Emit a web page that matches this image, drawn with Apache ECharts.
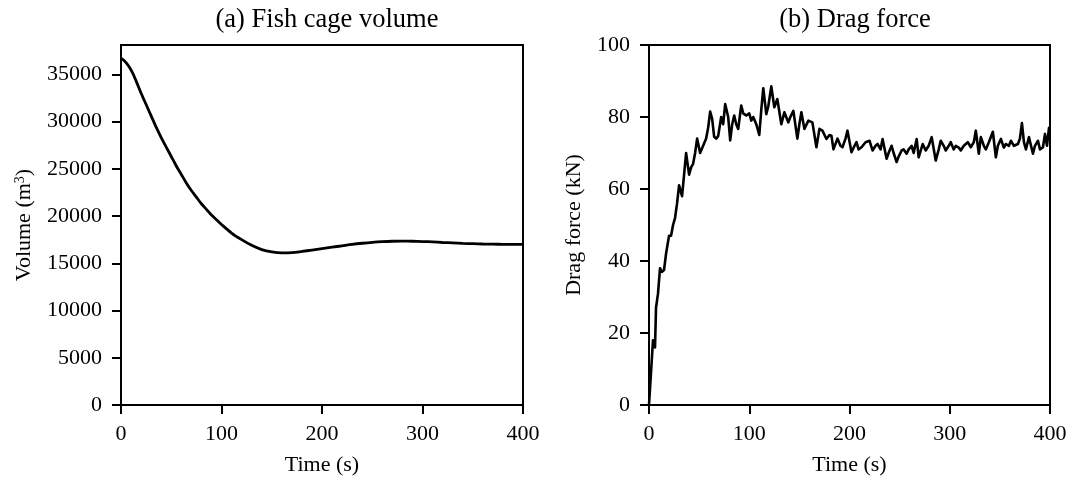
<!DOCTYPE html>
<html>
<head>
<meta charset="utf-8">
<script src="https://cdn.jsdelivr.net/npm/echarts@6/dist/echarts.min.js"></script>
<style>
  html, body { margin: 0; padding: 0; background: #fff; }
  #chart { width: 1072px; height: 481px; }
</style>
</head>
<body>
<div id="chart"></div>
<script>
// Time axis ticks shared by both panels
const timeTicks = [0, 100, 200, 300, 400];
const volumeTicks = [0, 5000, 10000, 15000, 20000, 25000, 30000, 35000];
const dragTicks = [0, 20, 40, 60, 80, 100];

// (a) Fish cage volume over time
const volTime = [0,3,6,9,12,15,20,25,30,35,40,45,50,55,60,65,70,75,80,85,90,95,100,110,120,130,140,150,160,170,180,190,200,210,220,230,240,250,260,270,280,290,300,310,320,330,340,350,360,370,380,390,400];
const volValues = [36700,36450,36100,35650,35050,34300,33000,31800,30600,29400,28300,27300,26300,25300,24400,23500,22700,22000,21300,20700,20100,19600,19100,18200,17500,16900,16450,16200,16100,16120,16250,16400,16550,16700,16850,17000,17120,17220,17290,17330,17340,17330,17300,17260,17200,17150,17100,17070,17040,17020,17010,17000,16990];

// (b) Drag force over time
const dragTime = [0,2,4,6,7,9,11,13,15,17,20,22,24,26,28,30,32,33,35,37,40,42,44,46,48,51,54,57,59,61,63,65,67,69,72,74,76,79,81,83,85,87,89,92,94,97,100,102,104,107,110,112,114,117,119,122,125,128,132,135,139,141,144,148,150,152,155,159,163,167,170,173,177,180,182,184,188,191,193,196,198,202,205,207,209,212,216,220,223,226,228,231,233,237,239,242,244,247,249,252,254,257,259,262,264,267,269,273,276,279,282,286,289,291,294,296,299,301,304,306,309,311,314,318,321,324,326,329,331,334,336,339,343,346,348,351,354,356,359,361,364,368,370,372,374,376,379,383,385,388,390,393,395,397,399,400];
const dragValues = [0,9,18,16,27,31,38,37,37.5,42,47,47,50,52,56,61,59,58,64,70,64,66,67,70,74,70,72,74,77,81.5,79.5,74.5,74,74.7,80,78,83.6,80,73.5,78,80.4,78,76.7,83.2,81,80.4,81,79,80,78,75,82,88,80.8,83,88.5,82.7,85,78,81.3,78.5,80,81.7,74,78,81.3,76.7,79,78.5,71.6,76.7,76.2,73.9,75,74.8,71,74,72,71.6,74,76.2,70.2,72,73,71,71.6,73,73.4,70.7,72,72.5,71,73.9,68.4,70,72,70,67.5,69,70.7,71,69.8,71,72,70,73.9,68.8,72.5,70.7,72,74.4,67.9,71,73.4,72,70.7,72,73,71,72,71.5,70.7,72,73,71.6,73,76.2,69.8,74.4,72,71,73,75.9,68.8,72,73.9,71.5,72.5,72,73.4,72,72.5,74,78.3,73,71,74.4,69.8,72,73.4,71,71.6,75.3,72,77,77];

const FONT = 'Liberation Serif';
const INK = '#000';

function pairs(xs, ys) { return xs.map((x, i) => [x, ys[i]]); }
const plain = v => String(v);

function xAxisFor(gridIndex) {
  return {
    type: 'value', gridIndex, min: 0, max: 400, interval: 100,
    name: 'Time (s)', nameLocation: 'middle', nameGap: 49,
    nameTextStyle: { fontFamily: FONT, fontSize: 22, color: INK },
    axisLine: { show: true, lineStyle: { color: INK, width: 2 } },
    axisTick: { show: true, length: 9, lineStyle: { color: INK, width: 2 }, customValues: timeTicks },
    axisLabel: { fontFamily: FONT, fontSize: 22, color: INK, margin: 18, formatter: plain, customValues: timeTicks },
    splitLine: { show: false }
  };
}

function yAxisFor(gridIndex, max, interval, ticks, name, gap) {
  return {
    type: 'value', gridIndex, min: 0, max, interval,
    name, nameLocation: 'middle', nameGap: gap,
    nameTextStyle: {
      fontFamily: FONT, fontSize: 22, color: INK,
      rich: {
        t: { fontFamily: FONT, fontSize: 22, color: INK },
        sup: { fontFamily: FONT, fontSize: 14, color: INK, verticalAlign: 'top', padding: [0, 0, 8, 0] }
      }
    },
    axisLine: { show: true, lineStyle: { color: INK, width: 2 } },
    axisTick: { show: true, length: 9, lineStyle: { color: INK, width: 2 }, customValues: ticks },
    axisLabel: { fontFamily: FONT, fontSize: 22, color: INK, margin: 19, formatter: plain, customValues: ticks },
    splitLine: { show: false }
  };
}

const chart = echarts.init(document.getElementById('chart'), null, { renderer: 'canvas' });
chart.setOption({
  animation: false,
  backgroundColor: '#fff',
  title: [
    { text: '(a) Fish cage volume', left: 322, top: 2, textAlign: 'center',
      textStyle: { fontFamily: FONT, fontSize: 26.5, fontWeight: 'normal', color: INK } },
    { text: '(b) Drag force', left: 850, top: 2, textAlign: 'center',
      textStyle: { fontFamily: FONT, fontSize: 26.5, fontWeight: 'normal', color: INK } }
  ],
  grid: [
    { left: 121, right: 549, top: 45, bottom: 74, show: true, borderColor: INK, borderWidth: 2, backgroundColor: 'transparent' },
    { left: 649, right: 22, top: 45, bottom: 74, show: true, borderColor: INK, borderWidth: 2, backgroundColor: 'transparent' }
  ],
  xAxis: [xAxisFor(0), xAxisFor(1)],
  yAxis: [
    yAxisFor(0, 38100, 5000, volumeTicks, '{t|Volume (m}{sup|3}{t|)}', 86),
    yAxisFor(1, 100, 20, dragTicks, 'Drag force (kN)', 64)
  ],
  series: [
    { type: 'line', xAxisIndex: 0, yAxisIndex: 0, data: pairs(volTime, volValues),
      smooth: 0.3, showSymbol: false, lineStyle: { color: INK, width: 2.8 } },
    { type: 'line', xAxisIndex: 1, yAxisIndex: 1, data: pairs(dragTime, dragValues),
      showSymbol: false, lineStyle: { color: INK, width: 2.6, join: 'round' } }
  ]
});
</script>
</body>
</html>
